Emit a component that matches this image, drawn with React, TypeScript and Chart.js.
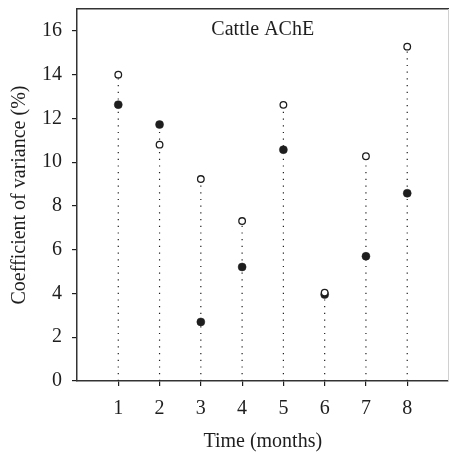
import React, { useEffect, useRef } from "react";
import { Chart, registerables } from "chart.js";

Chart.register(...registerables);

const months = [1, 2, 3, 4, 5, 6, 7, 8];
const openValues = [14.0, 10.8, 9.23, 7.31, 12.62, 4.04, 10.27, 15.28];
const filledValues = [12.63, 11.72, 2.7, 5.21, 10.57, 3.95, 5.7, 8.58];
const yTicks = [0, 2, 4, 6, 8, 10, 12, 14, 16];
const chartTitle = "Cattle AChE";
const xTitle = "Time (months)";
const yTitle = "Coefficient of variance (%)";

const FONT = "'Liberation Serif', 'Times New Roman', serif";
const INK = "#1e1e1e";

const zeroPad = (s: any) => {
  s.paddingTop = 0;
  s.paddingBottom = 0;
  s.paddingLeft = 0;
  s.paddingRight = 0;
};

export default function App() {
  const ref = useRef<HTMLCanvasElement | null>(null);

  useEffect(() => {
    if (!ref.current) return;
    const stems: any[] = [];
    months.forEach((m, i) => {
      stems.push({ x: m, y: 0 });
      stems.push({ x: m, y: Math.max(openValues[i], filledValues[i]) });
      stems.push({ x: m, y: null });
    });

    const titlePlugin = {
      id: "innerTitle",
      afterDraw(chart: any) {
        const { ctx, chartArea } = chart;
        ctx.save();
        ctx.font = `20px ${FONT}`;
        ctx.fillStyle = INK;
        ctx.textAlign = "center";
        ctx.textBaseline = "alphabetic";
        ctx.fillText(chartTitle, (chartArea.left + chartArea.right) / 2, chartArea.top + 26);
        ctx.restore();
      },
    };

    const font = { family: FONT, size: 20 };

    const chart = new Chart(ref.current, {
      type: "scatter",
      data: {
        datasets: [
          {
            data: months.map((m, i) => ({ x: m, y: openValues[i] })),
            pointRadius: 3.3,
            backgroundColor: "#ffffff",
            borderColor: INK,
            borderWidth: 1.3,
            order: 0,
          },
          {
            data: months.map((m, i) => ({ x: m, y: filledValues[i] })),
            pointRadius: 4,
            backgroundColor: INK,
            borderColor: INK,
            borderWidth: 0.5,
            order: 1,
          },
          {
            data: stems,
            showLine: true,
            spanGaps: false,
            pointRadius: 0,
            borderColor: INK,
            borderWidth: 1.2,
            borderDash: [1.2, 5.5],
            order: 2,
          } as any,
        ],
      },
      options: {
        animation: false,
        responsive: false,
        layout: { autoPadding: false, padding: { top: 9, right: 0.5, left: 0, bottom: 0 } },
        plugins: { legend: { display: false }, tooltip: { enabled: false } },
        scales: {
          x: {
            type: "linear",
            position: "bottom",
            min: 0,
            max: 9,
            afterBuildTicks: (s: any) => {
              s.ticks = months.map((v) => ({ value: v }));
            },
            afterFit: (s: any) => {
              s.height = 73;
              zeroPad(s);
            },
            grid: { display: true, drawOnChartArea: false, drawTicks: true, tickLength: 5, color: INK, lineWidth: 1.2 },
            border: { display: true, color: "#333", width: 1.5 },
            ticks: { color: INK, font, padding: 11, maxRotation: 0 },
            title: { display: true, text: xTitle, color: INK, font, padding: { top: 0, bottom: 0 } },
          },
          y: {
            type: "linear",
            position: "left",
            min: 0,
            max: 17,
            afterBuildTicks: (s: any) => {
              s.ticks = yTicks.map((v) => ({ value: v }));
            },
            afterFit: (s: any) => {
              s.width = 77;
              zeroPad(s);
            },
            grid: { display: true, drawOnChartArea: false, drawTicks: true, tickLength: 5, color: INK, lineWidth: 1.2 },
            border: { display: true, color: "#333", width: 1.5 },
            ticks: { color: INK, font, padding: 10 },
            title: { display: true, text: yTitle, color: INK, font, padding: { top: 8, bottom: 0 } },
          },
          xTop: {
            type: "linear",
            position: "top",
            min: 0,
            max: 9,
            afterFit: (s: any) => {
              s.height = 0;
              zeroPad(s);
            },
            grid: { display: false },
            ticks: { display: false },
            border: { display: true, color: "#333", width: 1.5 },
          },
          yRight: {
            type: "linear",
            position: "right",
            min: 0,
            max: 17,
            afterFit: (s: any) => {
              s.width = 0;
              zeroPad(s);
            },
            grid: { display: false },
            ticks: { display: false },
            border: { display: true, color: "#d0d0d0", width: 1 },
          },
        } as any,
      },
      plugins: [titlePlugin],
    });
    return () => chart.destroy();
  }, []);

  return (
    <div style={{ position: "fixed", left: 0, top: 0, width: 449, height: 454, background: "#fff" }}>
      <canvas ref={ref} width={449} height={454} />
    </div>
  );
}
